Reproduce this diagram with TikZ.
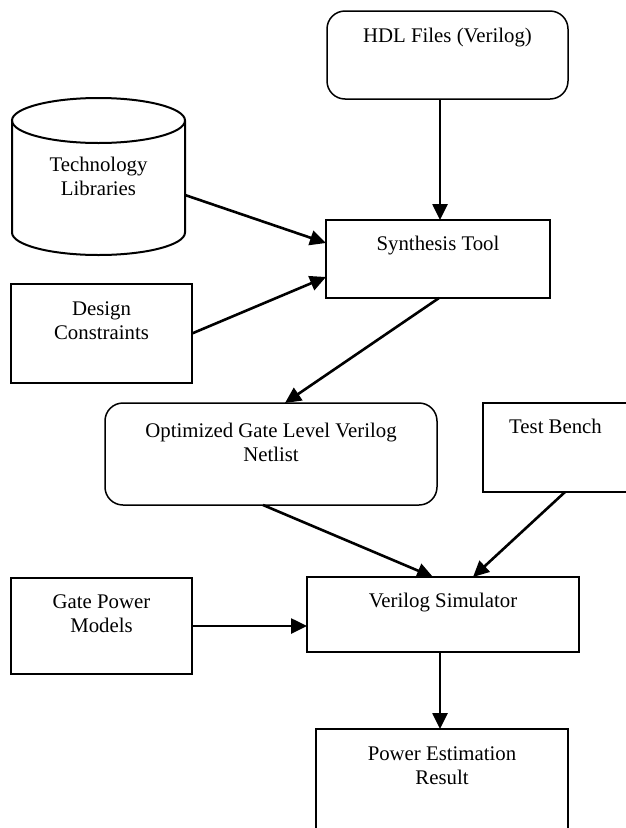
\documentclass[tikz,border=0pt]{standalone}
\usepackage{fontspec}
\setmainfont{Liberation Serif}
\usetikzlibrary{arrows.meta}

\begin{document}
\begin{tikzpicture}[x=1pt,y=-1pt,font=\fontsize{20.8}{24}\selectfont,
		box/.style={draw,line width=2.5pt,inner sep=0pt,outer sep=0pt},
		rbox/.style={draw,line width=1.5pt,rounded corners=18pt,inner sep=0pt,outer sep=0pt},
		lbl/.style={anchor=north,align=center,inner sep=0pt,yshift=-17pt},
		flow/.style={line width=2.6pt,-{Triangle[length=16pt,width=15pt]}}]
			\useasboundingbox (0,0) rectangle (626,828);
			\node[rbox, minimum width=241pt, minimum height=88pt] (hdl) at (447.5,55) {};
			\node[lbl] at (hdl.north) {HDL Files (Verilog)};
			\node[minimum width=173pt, minimum height=157pt, inner sep=0pt, outer sep=0pt, align=center] (tech) at (98.5,176.5) {Technology\\Libraries};
			% database drum
			\draw[line width=2pt] ([yshift=-22.5pt]tech.north) ellipse [x radius=86.5pt, y radius=22.5pt];
			\draw[line width=2pt] ([yshift=-22.5pt]tech.north west) -- ([yshift=22.5pt]tech.south west)
				arc[start angle=180, end angle=360, x radius=86.5pt, y radius=22.5pt] -- ([yshift=-22.5pt]tech.north east);
			\node[box, minimum width=224pt, minimum height=78pt] (synth) at (438,259) {};
			\node[lbl, yshift=1pt] at (synth.north) {Synthesis Tool};
			\node[box, minimum width=181pt, minimum height=99pt] (dc) at (101.5,333.5) {};
			\node[lbl, yshift=-1pt] at (dc.north) {Design\\Constraints};
			\node[rbox, minimum width=332pt, minimum height=102pt] (opt) at (271,454) {};
			\node[lbl, yshift=-3pt] at (opt.north) {Optimized Gate Level Verilog\\Netlist};
			\node[box, minimum width=145pt, minimum height=89pt] (tb) at (555.5,447.5) {};
			\node[lbl, yshift=1pt] at (tb.north) {Test Bench};
			\node[box, minimum width=272pt, minimum height=75pt] (vsim) at (443,614.5) {};
			\node[lbl, yshift=1pt] at (vsim.north) {Verilog Simulator};
			\node[box, minimum width=181pt, minimum height=96pt] (gpm) at (101.5,626) {};
			\node[lbl] at (gpm.north) {Gate Power\\Models};
			\node[box, minimum width=252pt, minimum height=106pt] (pe) at (442,782) {};
			\node[lbl, yshift=-1pt] at (pe.north) {Power Estimation\\Result};
			% connectors
			\draw[flow] ([xshift=-7.5pt]hdl.south) -- ([xshift=2pt]synth.north);
			\draw[flow] ([yshift=-18.5pt]tech.east) -- ([yshift=16pt]synth.west);
			\draw[flow] (dc.east) -- ([yshift=-18pt]synth.west);
			\draw[flow] ([xshift=1pt]synth.south) -- ([xshift=14pt]opt.north);
			\draw[flow] ([xshift=-8pt]opt.south) -- ([xshift=-10pt]vsim.north);
			\draw[flow] ([xshift=9.5pt]tb.south) -- ([xshift=30pt]vsim.north);
			\draw[flow] (gpm.east) -- (gpm.east -| vsim.west);
			\draw[flow] ([xshift=-3pt]vsim.south) -- ([xshift=-3pt]vsim.south |- pe.north);
		\end{tikzpicture}
\end{document}
